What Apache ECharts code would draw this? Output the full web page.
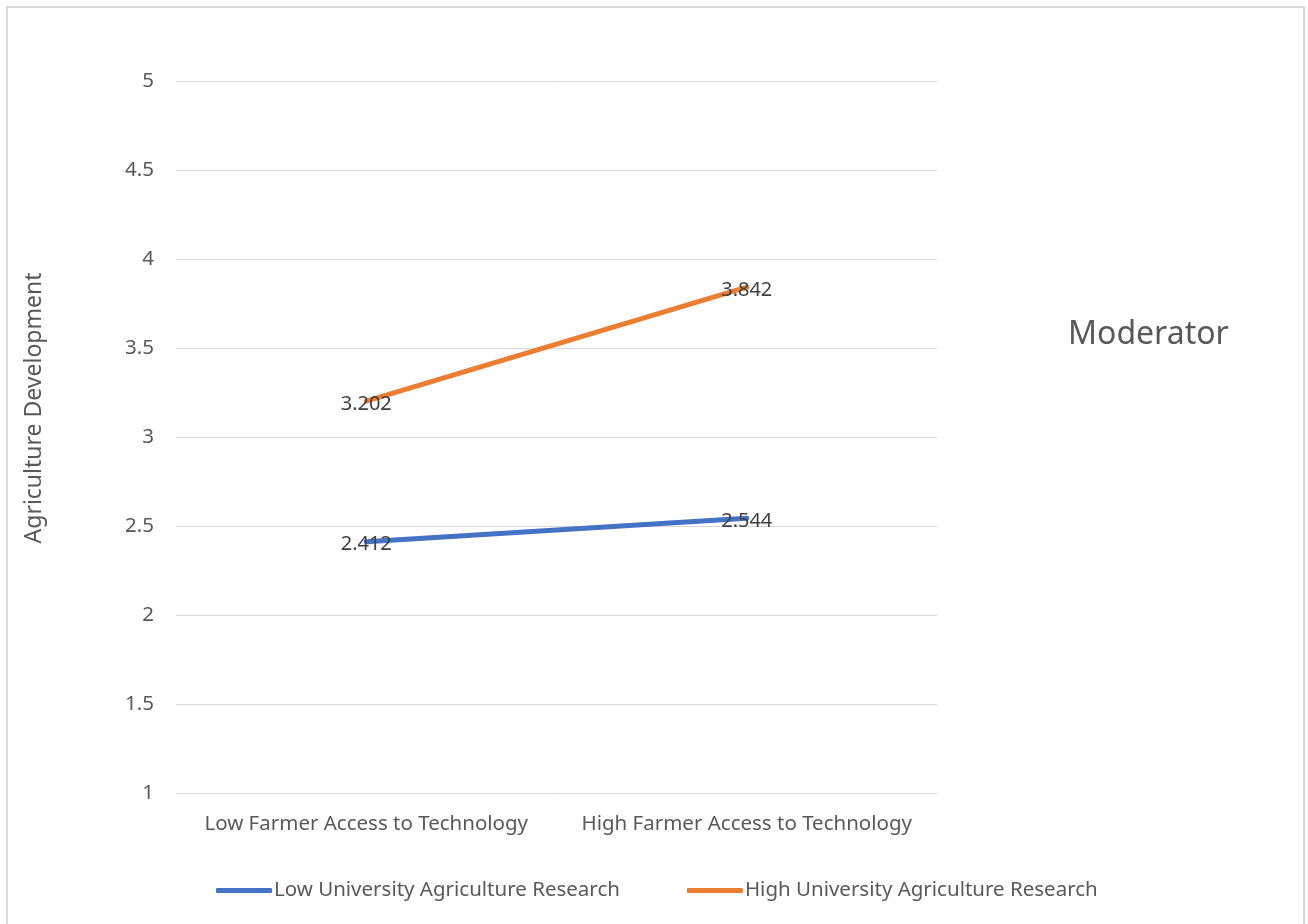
<!DOCTYPE html>
<html>
<head>
<meta charset="utf-8">
<script src="https://cdn.jsdelivr.net/npm/echarts@6/dist/echarts.min.js"></script>
<style>
  html, body { margin: 0; padding: 0; background: #fff; }
  #chart { width: 1308px; height: 924px; }
</style>
</head>
<body>
<div id="chart"></div>
<script>
var categories = ['Low Farmer Access to Technology', 'High Farmer Access to Technology'];
var lowResearch = [2.412, 2.544];
var highResearch = [3.202, 3.842];
var yTicks = { min: 1, max: 5, interval: 0.5 };

var font = 'Noto Sans';
var chart = echarts.init(document.getElementById('chart'));

function lineSeries(name, data, color) {
    return {
        name: name,
        type: 'line',
        data: data,
        symbol: 'circle',
        symbolSize: 0.1,
        showSymbol: true,
        lineStyle: { color: color, width: 5, cap: 'round' },
        itemStyle: { color: color },
        label: {
            show: true,
            position: 'top',
            distance: 0,
            offset: [0, 13],
            color: '#404040',
            fontFamily: font,
            fontSize: 20
        },
        animation: false
    };
}

var option = {
    backgroundColor: '#fff',
    grid: { left: 176, right: 371, top: 81, bottom: 131 },
    graphic: [
        {
            type: 'rect',
            shape: { x: 7, y: 7, width: 1297, height: 930 },
            style: { fill: 'none', stroke: '#d9d9d9', lineWidth: 2 },
            silent: true
        },
        {
            type: 'text',
            left: 1068,
            top: 319,
            style: { text: 'Moderator', fill: '#595959', font: '32px "Noto Sans"' }
        }
    ],
    legend: {
        bottom: 18,
        left: 211,
        itemWidth: 56,
        itemHeight: 5,
        itemGap: 67,
        icon: 'roundRect',
        textStyle: { color: '#595959', fontFamily: font, fontSize: 20.5, padding: [0, 0, 0, -3] },
        data: ['Low University Agriculture Research', 'High University Agriculture Research']
    },
    xAxis: {
        type: 'category',
        data: categories,
        boundaryGap: true,
        axisLine: { show: false },
        axisTick: { show: false },
        axisLabel: { interval: 0, color: '#595959', fontFamily: font, fontSize: 20.5, margin: 21 }
    },
    yAxis: {
        type: 'value',
        min: yTicks.min,
        max: yTicks.max,
        interval: yTicks.interval,
        name: 'Agriculture Development',
        nameLocation: 'middle',
        nameGap: 130,
        nameRotate: 90,
        nameTextStyle: { color: '#595959', fontFamily: font, fontSize: 23, padding: [0, 0, 0, 58] },
        axisLine: { show: false },
        axisTick: { show: false },
        axisLabel: { color: '#595959', fontFamily: font, fontSize: 20.5, margin: 22 },
        splitLine: { lineStyle: { color: '#d9d9d9', width: 1 } }
    },
    series: [
        lineSeries('Low University Agriculture Research', lowResearch, '#4472c4'),
        lineSeries('High University Agriculture Research', highResearch, '#ed7d31')
    ]
};
chart.setOption(option);
</script>
</body>
</html>
